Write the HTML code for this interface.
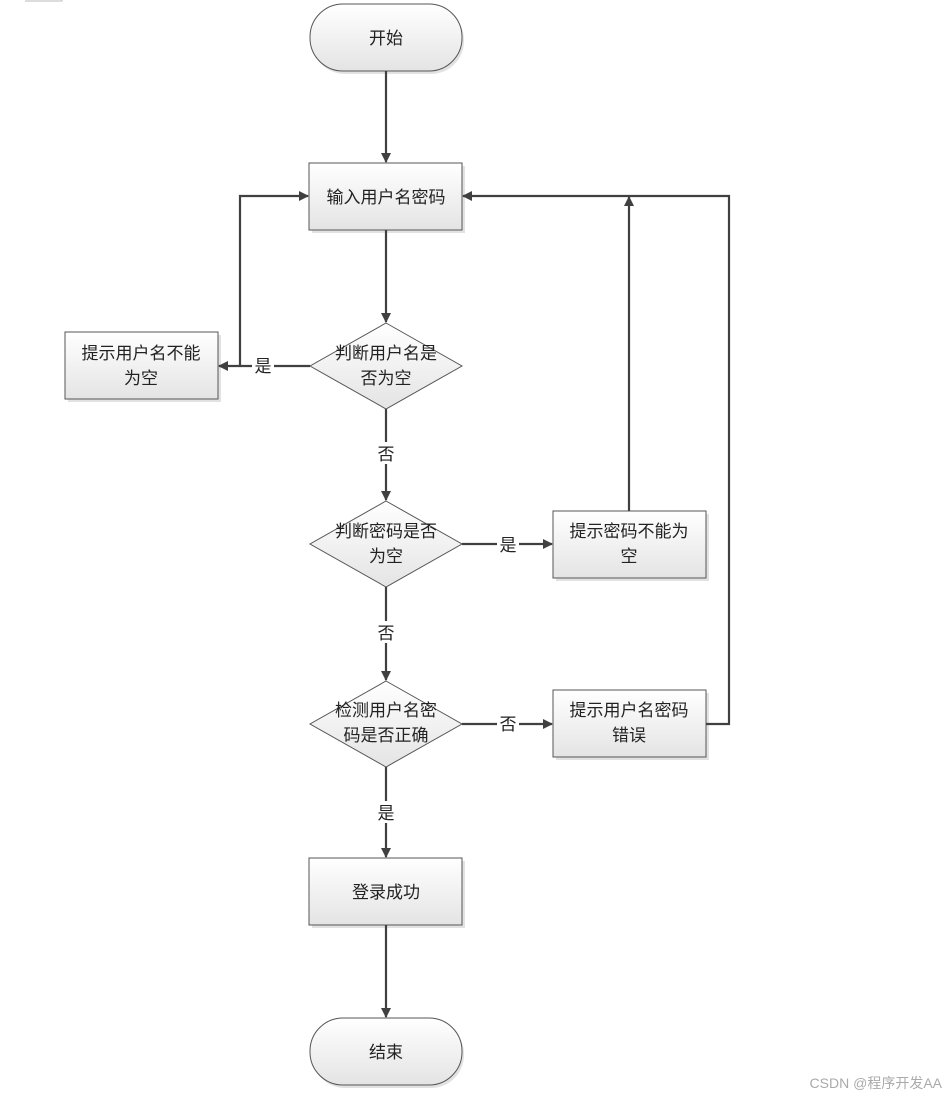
<!DOCTYPE html>
<html><head><meta charset="utf-8"><style>
body{margin:0;background:#fff}
svg text{font-family:"Liberation Sans","Noto Sans CJK SC",sans-serif;font-size:17px;fill:#222}
</style></head><body>
<svg width="946" height="1098" xmlns="http://www.w3.org/2000/svg">
<defs>
<linearGradient id="g" x1="0" y1="0" x2="0" y2="1"><stop offset="0" stop-color="#ffffff"/><stop offset="1" stop-color="#e4e4e4"/></linearGradient>
<marker id="a" markerWidth="10" markerHeight="10" refX="9" refY="5" orient="auto" markerUnits="userSpaceOnUse"><path d="M0,0 L10,5 L0,10 Z" fill="#404040"/></marker>
</defs>
<path d="M25,1 H62 V0" stroke="#bbb" fill="none"/>
<g fill="#cfcfcf" opacity="0.6">
<rect x="312" y="7" width="152" height="67" rx="33"/>
<rect x="312" y="166" width="153" height="67"/>
<rect x="68" y="335" width="153" height="67"/>
<rect x="556" y="514" width="153" height="67"/>
<rect x="556" y="693" width="153" height="67"/>
<rect x="312" y="861" width="153" height="67"/>
<rect x="312" y="1021" width="152" height="67" rx="33"/>
</g>
<g stroke="#555" stroke-width="1" fill="url(#g)">
<rect x="310" y="4" width="152" height="67" rx="33"/>
<rect x="309" y="163" width="153" height="67"/>
<rect x="65" y="332" width="153" height="67"/>
<polygon points="386,323 462,366 386,409 310,366"/>
<polygon points="386,501 462,544 386,587 310,544"/>
<rect x="553" y="511" width="153" height="67"/>
<polygon points="386,681 462,724 386,767 310,724"/>
<rect x="553" y="690" width="153" height="67"/>
<rect x="309" y="858" width="153" height="67"/>
<rect x="310" y="1018" width="152" height="67" rx="33"/>
</g>
<g stroke="#404040" stroke-width="2.2" fill="none" marker-end="url(#a)">
<path d="M386,71 V162"/>
<path d="M386,230 V322"/>
<path d="M310,366 H219"/>
<path d="M240,366 V196 H308"/>
<path d="M386,409 V500"/>
<path d="M462,544 H552"/>
<path d="M629,511 V197"/>
<path d="M386,587 V680"/>
<path d="M462,724 H552"/>
<path d="M706,724 H729 V196 H463"/>
<path d="M386,767 V857"/>
<path d="M386,925 V1017"/>
</g>
<g fill="#fff">
<rect x="252" y="354" width="22" height="22"/>
<rect x="375" y="442" width="22" height="22"/>
<rect x="497" y="533" width="22" height="22"/>
<rect x="375" y="621" width="22" height="22"/>
<rect x="497" y="712" width="22" height="22"/>
<rect x="375" y="801" width="22" height="22"/>
</g>
<g text-anchor="middle">
<text x="386" y="44">开始</text>
<text x="386" y="203">输入用户名密码</text>
<text x="141" y="359">提示用户名不能</text>
<text x="141" y="384">为空</text>
<text x="386" y="359">判断用户名是</text>
<text x="386" y="384">否为空</text>
<text x="263" y="372">是</text>
<text x="386" y="460">否</text>
<text x="386" y="537">判断密码是否</text>
<text x="386" y="562">为空</text>
<text x="508" y="551">是</text>
<text x="629" y="537">提示密码不能为</text>
<text x="629" y="562">空</text>
<text x="386" y="639">否</text>
<text x="386" y="716">检测用户名密</text>
<text x="386" y="741">码是否正确</text>
<text x="508" y="730">否</text>
<text x="629" y="716">提示用户名密码</text>
<text x="629" y="741">错误</text>
<text x="386" y="819">是</text>
<text x="386" y="898">登录成功</text>
<text x="386" y="1058">结束</text>
</g>
<text x="942" y="1088" text-anchor="end" style="font-size:14px;fill:#aaa">CSDN @程序开发AA</text>
</svg>
</body></html>
